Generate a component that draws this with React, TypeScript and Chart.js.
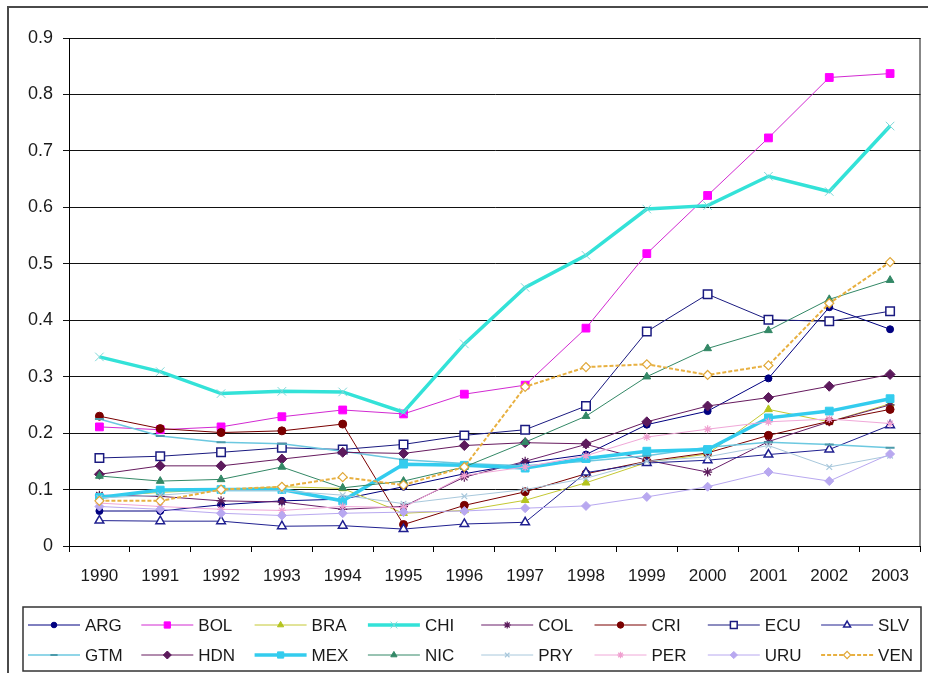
import React, { useEffect, useRef } from 'react';
import { Chart, registerables } from 'chart.js';
import { drawPoint } from 'chart.js/helpers';

Chart.register(...registerables);

// Category axis
const years = ['1990', '1991', '1992', '1993', '1994', '1995', '1996', '1997', '1998', '1999', '2000', '2001', '2002', '2003'];

// Value axis ticks
const yTicks = [0, 0.1, 0.2, 0.3, 0.4, 0.5, 0.6, 0.7, 0.8, 0.9];

// Series values by country, 1990–2003
const ARG = [0.062, 0.062, 0.073, 0.080, 0.083, 0.105, 0.128, 0.147, 0.162, 0.215, 0.239, 0.297, 0.423, 0.384];
const BOL = [0.211, 0.206, 0.211, 0.229, 0.241, 0.234, 0.269, 0.285, 0.386, 0.518, 0.621, 0.723, 0.830, 0.837];
const BRA = [0.088, 0.095, 0.100, 0.105, 0.102, 0.058, 0.063, 0.081, 0.112, 0.148, 0.163, 0.242, 0.220, 0.252];
const CHI = [0.335, 0.309, 0.270, 0.274, 0.273, 0.237, 0.358, 0.458, 0.515, 0.597, 0.603, 0.655, 0.628, 0.744];
const COL = [0.090, 0.088, 0.080, 0.078, 0.065, 0.070, 0.122, 0.150, 0.180, 0.152, 0.131, 0.185, 0.220, 0.250];
const CRI = [0.230, 0.208, 0.201, 0.204, 0.216, 0.038, 0.072, 0.096, 0.128, 0.150, 0.165, 0.196, 0.221, 0.242];
const ECU = [0.156, 0.159, 0.166, 0.174, 0.171, 0.180, 0.196, 0.206, 0.248, 0.380, 0.446, 0.401, 0.398, 0.416];
const SLV = [0.045, 0.044, 0.044, 0.035, 0.036, 0.030, 0.039, 0.042, 0.130, 0.147, 0.152, 0.162, 0.171, 0.214];
const GTM = [0.225, 0.195, 0.184, 0.181, 0.168, 0.153, 0.146, 0.142, 0.150, 0.160, 0.175, 0.184, 0.180, 0.174];
const HDN = [0.127, 0.142, 0.142, 0.154, 0.166, 0.164, 0.178, 0.183, 0.181, 0.220, 0.248, 0.263, 0.283, 0.304];
const MEX = [0.086, 0.099, 0.100, 0.100, 0.080, 0.145, 0.143, 0.138, 0.155, 0.168, 0.171, 0.227, 0.239, 0.261];
const NIC = [0.124, 0.115, 0.118, 0.140, 0.103, 0.115, 0.140, 0.184, 0.230, 0.300, 0.350, 0.382, 0.437, 0.471];
const PRY = [0.085, 0.090, 0.098, 0.098, 0.090, 0.075, 0.088, 0.100, 0.120, 0.150, 0.158, 0.178, 0.140, 0.160];
const PER = [0.076, 0.070, 0.065, 0.063, 0.070, 0.068, 0.125, 0.140, 0.160, 0.193, 0.207, 0.220, 0.225, 0.217];
const URU = [0.070, 0.065, 0.058, 0.054, 0.058, 0.060, 0.062, 0.067, 0.071, 0.087, 0.105, 0.131, 0.115, 0.163];
const VEN = [0.080, 0.080, 0.100, 0.105, 0.122, 0.108, 0.140, 0.282, 0.317, 0.322, 0.303, 0.320, 0.430, 0.503];

const FONT = '"Liberation Sans", Arial, sans-serif';

type Style = {
  line: string;
  width: number;
  dash?: number[];
  point: string;
  radius: number;
  fill: string;
  stroke: string;
  pw: number;
};

const series: { label: string; data: number[]; s: Style }[] = [
  { label: 'ARG', data: ARG, s: { line: '#000080', width: 1, point: 'circle', radius: 3.5, fill: '#000080', stroke: '#000080', pw: 1 } },
  { label: 'BOL', data: BOL, s: { line: '#d22ad2', width: 1, point: 'rect', radius: 5.5, fill: '#ff00ff', stroke: '#ff00ff', pw: 1 } },
  { label: 'BRA', data: BRA, s: { line: '#c4c832', width: 1, point: 'triangle', radius: 4.5, fill: '#b4c41e', stroke: '#b4c41e', pw: 1 } },
  { label: 'CHI', data: CHI, s: { line: '#33e2d8', width: 3.5, point: 'crossRot', radius: 6, fill: '#7fd8d8', stroke: '#7fd8d8', pw: 1 } },
  { label: 'COL', data: COL, s: { line: '#6a1f6a', width: 1, point: 'star', radius: 4.5, fill: '#5a1a5a', stroke: '#5a1a5a', pw: 1.2 } },
  { label: 'CRI', data: CRI, s: { line: '#7a0000', width: 1, point: 'circle', radius: 4, fill: '#7a0000', stroke: '#7a0000', pw: 1 } },
  { label: 'ECU', data: ECU, s: { line: '#1a1a80', width: 1, point: 'rect', radius: 6, fill: '#ffffff', stroke: '#1a1a80', pw: 1.5 } },
  { label: 'SLV', data: SLV, s: { line: '#202090', width: 1, point: 'triangle', radius: 5, fill: '#ffffff', stroke: '#202090', pw: 1.5 } },
  { label: 'GTM', data: GTM, s: { line: '#6cc8e0', width: 1.5, point: 'line', radius: 4.5, fill: '#4c9aaa', stroke: '#4c9aaa', pw: 2 } },
  { label: 'HDN', data: HDN, s: { line: '#661a5e', width: 1, point: 'rectRot', radius: 5, fill: '#5c1a5c', stroke: '#5c1a5c', pw: 1 } },
  { label: 'MEX', data: MEX, s: { line: '#33ccee', width: 3.5, point: 'rect', radius: 5.5, fill: '#33ccee', stroke: '#33ccee', pw: 1 } },
  { label: 'NIC', data: NIC, s: { line: '#338866', width: 1, point: 'triangle', radius: 4.5, fill: '#338866', stroke: '#338866', pw: 1 } },
  { label: 'PRY', data: PRY, s: { line: '#a8c8dc', width: 1, point: 'crossRot', radius: 4, fill: '#a8c8dc', stroke: '#a8c8dc', pw: 1.2 } },
  { label: 'PER', data: PER, s: { line: '#f0a8d8', width: 1, point: 'star', radius: 4, fill: '#f0a0d0', stroke: '#f0a0d0', pw: 1.2 } },
  { label: 'URU', data: URU, s: { line: '#b8a8f0', width: 1, point: 'rectRot', radius: 4.5, fill: '#b8a8f0', stroke: '#b8a8f0', pw: 1 } },
  { label: 'VEN', data: VEN, s: { line: '#e8b040', width: 2, dash: [4, 2], point: 'rectRot', radius: 4.5, fill: '#ffffff', stroke: '#e0a838', pw: 1.2 } },
];

// Chart frame, plot-area outline and the two-row legend box
const framePlugin = {
  id: 'frame',
  beforeDraw(chart: any) {
    const ctx = chart.ctx as CanvasRenderingContext2D;
    ctx.save();
    ctx.fillStyle = '#ffffff';
    ctx.fillRect(0, 0, chart.width, chart.height);
    ctx.strokeStyle = '#4a4a4a';
    ctx.lineWidth = 2;
    ctx.strokeRect(8, 7, chart.width + 10, chart.height + 10);
    ctx.restore();
  },
  afterDraw(chart: any) {
    const ctx = chart.ctx as CanvasRenderingContext2D;
    const ca = chart.chartArea;
    ctx.save();
    ctx.strokeStyle = '#111';
    ctx.lineWidth = 1;
    ctx.beginPath();
    ctx.moveTo(ca.right - 0.5, ca.top);
    ctx.lineTo(ca.right - 0.5, ca.bottom);
    ctx.stroke();

    // legend box
    const boxL = 23, boxT = 607, boxR = 921, boxB = 671;
    ctx.strokeStyle = '#333';
    ctx.lineWidth = 1.5;
    ctx.strokeRect(boxL, boxT, boxR - boxL, boxB - boxT);

    const rows = [625, 655];
    const colStep = 113.3;
    ctx.font = '17px ' + FONT;
    ctx.textBaseline = 'middle';
    ctx.textAlign = 'left';
    series.forEach((sr, i) => {
      const row = Math.floor(i / 8);
      const col = i % 8;
      const tx = 85 + colStep * col;
      const y = rows[row];
      const s = sr.s;
      ctx.save();
      ctx.strokeStyle = s.line;
      ctx.lineWidth = s.width;
      ctx.setLineDash(s.dash || []);
      ctx.beginPath();
      ctx.moveTo(tx - 57, y);
      ctx.lineTo(tx - 5, y);
      ctx.stroke();
      ctx.setLineDash([]);
      ctx.fillStyle = s.fill;
      ctx.strokeStyle = s.stroke;
      ctx.lineWidth = s.pw;
      drawPoint(ctx, { pointStyle: s.point as any, radius: s.radius * 0.8, rotation: 0, borderWidth: s.pw }, tx - 31, y);
      ctx.restore();
      ctx.fillStyle = '#1a1a1a';
      ctx.fillText(sr.label, tx, y + 1);
    });
    ctx.restore();
  },
};

export default function App() {
  const ref = useRef<HTMLCanvasElement>(null);

  useEffect(() => {
    if (!ref.current) return;
    const n = series.length;
    const chart = new Chart(ref.current, {
      type: 'line',
      data: {
        labels: years,
        datasets: series.map((sr, i) => ({
          label: sr.label,
          data: sr.data,
          borderColor: sr.s.line,
          borderWidth: sr.s.width,
          borderDash: sr.s.dash || [],
          pointStyle: sr.s.point as any,
          pointRadius: sr.s.radius,
          pointBackgroundColor: sr.s.fill,
          pointBorderColor: sr.s.stroke,
          pointBorderWidth: sr.s.pw,
          tension: 0,
          fill: false,
          order: n - i,
        })),
      },
      options: {
        responsive: false,
        devicePixelRatio: 1,
        animation: false,
        layout: { padding: { left: 0, top: 38, right: 1, bottom: 87 } },
        plugins: {
          legend: { display: false },
          tooltip: { enabled: false },
        },
        scales: {
          x: {
            type: 'category',
            offset: true,
            grid: { offset: true, drawOnChartArea: false, tickLength: 6, color: '#000' },
            border: { color: '#000', width: 1 },
            ticks: { color: '#1a1a1a', font: { family: FONT, size: 17 }, padding: 14, maxRotation: 0, autoSkip: false },
            afterFit: (scale: any) => { scale.height = 40; },
          },
          y: {
            min: yTicks[0],
            max: yTicks[yTicks.length - 1],
            afterBuildTicks: (scale: any) => { scale.ticks = yTicks.map((v) => ({ value: v })); },
            grid: { color: '#111', lineWidth: 1, tickLength: 6 },
            border: { color: '#000', width: 1 },
            ticks: {
              color: '#1a1a1a',
              font: { family: FONT, size: 18 },
              padding: 10,
              callback: (v: any) => String(Math.round(Number(v) * 10) / 10),
            },
            afterFit: (scale: any) => { scale.width = 69; },
          },
        },
      },
      plugins: [framePlugin],
    });
    return () => chart.destroy();
  }, []);

  return (
    <div style={{ position: 'fixed', left: 0, top: 0, width: 928, height: 673, background: '#fff' }}>
      <canvas ref={ref} width={928} height={673} style={{ display: 'block' }} />
    </div>
  );
}
